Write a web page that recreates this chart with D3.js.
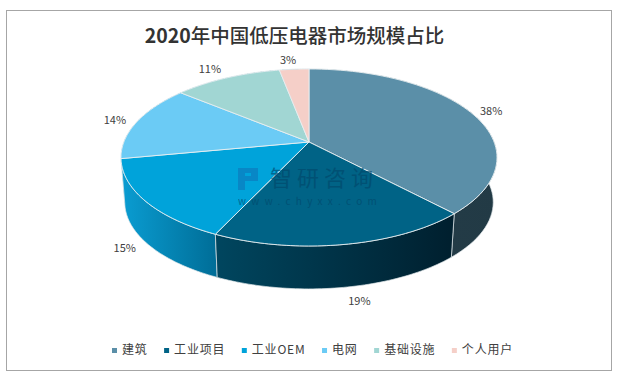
<!DOCTYPE html>
<meta charset="utf-8">
<title>2020年中国低压电器市场规模占比</title>
<script src="https://d3js.org/d3.v7.min.js"></script>
<style>
  body { margin: 0; background: #fff; }
  text { font-family: "Noto Sans CJK SC", "Noto Sans", sans-serif; }
</style>
<svg width="617" height="373"></svg>
<script>
var categories = ["建筑", "工业项目", "工业OEM", "电网", "基础设施", "个人用户"];
var shares = [38, 19, 15, 14, 11, 3];
var colors = ["#5b8fa8", "#006386", "#00a3da", "#6bcbf5", "#a1d6d3", "#f5cfc8"];
var wallLeft = ["#263e4b", "#00465f", "#0a9dd2", "#0a9dd2", "#0a9dd2", "#0a9dd2"];
var wallRight = ["#223a45", "#001f2e", "#006e98", "#006e98", "#006e98", "#006e98"];

var svg = d3.select("svg");

svg.append("rect")
    .attr("x", 6.5).attr("y", 10.5)
    .attr("width", 605).attr("height", 360)
    .attr("fill", "#fff")
    .attr("stroke", "#a6a6a6");

var title = svg.append("text")
    .attr("x", 294.5).attr("y", 43)
    .attr("text-anchor", "middle")
    .attr("font-size", 19.5)
    .attr("fill", "#333");
title.append("tspan").attr("font-weight", 700).text("2020");
title.append("tspan").attr("font-weight", 500).text("年中国低压电器市场规模占比");

// the pie is tilted with a bit of perspective, so the apex sits above the ellipse centre
var cx = 309, cy = 142, rx = 185.1, ry = 85.8, persp = 0.175, depth = 45, bottomScale = 0.98;

function project(angle, bottom) {
    var u = Math.sin(angle), v = -Math.cos(angle);
    var w = 1 - persp * v;
    var s = bottom ? bottomScale : 1;
    return [cx + s * rx * u / w, cy + (bottom ? depth : 0) + s * ry * v / w];
}

var color = d3.scaleOrdinal().domain(categories).range(colors);
var pie = d3.pie().sort(null).value(function(d, i) { return shares[i]; });
var arcs = pie(categories);
var line = d3.line();

function arcPoints(d, bottom) {
    return d3.range(0, 61).map(function(k) {
        return project(d.startAngle + (d.endAngle - d.startAngle) * k / 60, bottom);
    });
}

var defs = svg.append("defs");
arcs.forEach(function(d, i) {
    var xs = arcPoints(d, false).map(function(p) { return p[0]; });
    var g = defs.append("linearGradient")
        .attr("id", "wall" + i)
        .attr("gradientUnits", "userSpaceOnUse")
        .attr("x1", d3.min(xs)).attr("x2", d3.max(xs))
        .attr("y1", 0).attr("y2", 0);
    g.append("stop").attr("offset", 0).attr("stop-color", wallLeft[i]);
    g.append("stop").attr("offset", 1).attr("stop-color", wallRight[i]);
});

// side walls, back ones first so the front ones stay on top
[3, 4, 5, 0, 2, 1].forEach(function(i) {
    var d = arcs[i];
    svg.append("path")
        .attr("d", line(arcPoints(d, false).concat(arcPoints(d, true).reverse())) + "Z")
        .attr("fill", "url(#wall" + i + ")")
        .attr("stroke", "#dfe6ea")
        .attr("stroke-width", 0.7);
});

// top face
svg.append("g").selectAll("path")
    .data(arcs)
    .enter()
    .append("path")
    .attr("d", function(d) { return line([[cx, cy]].concat(arcPoints(d, false))) + "Z"; })
    .attr("fill", function(d) { return color(d.data); })
    .attr("stroke", "#e8eef0")
    .attr("stroke-width", 0.9);

// watermark
var mark = svg.append("g").attr("fill", "#00486b").attr("opacity", 0.65);
mark.append("text")
    .attr("x", 270).attr("y", 186)
    .attr("font-size", 22)
    .attr("letter-spacing", 5)
    .text("智研咨询");
mark.append("text")
    .attr("x", 238).attr("y", 205)
    .attr("font-size", 10)
    .attr("letter-spacing", 5.3)
    .text("www.chyxx.com");
svg.append("path")
    .attr("d", "M238 168H258V181H245V190H238ZM245 173V176H251V173Z")
    .attr("fill", "#0a7fc0")
    .attr("fill-rule", "evenodd")
    .attr("opacity", 0.8);

// value labels just outside the rim, below the wall on the front half
var labelNudge = [[0, 3], [12, 2], [-3, -3], [-1, 1], [-6, 2], [-4, 3]];
svg.append("g").selectAll("text")
    .data(arcs)
    .enter()
    .append("text")
    .attr("font-size", 11)
    .attr("fill", "#404040")
    .attr("text-anchor", "middle")
    .attr("x", function(d) {
        var a = (d.startAngle + d.endAngle) / 2;
        return project(a, false)[0] + 22 * Math.sin(a) + labelNudge[d.index][0];
    })
    .attr("y", function(d) {
        var a = (d.startAngle + d.endAngle) / 2;
        var v = -Math.cos(a);
        return project(a, false)[1] + (v > 0 ? 43 : 0) + 12 * v + 4 + labelNudge[d.index][1];
    })
    .text(function(d) { return shares[d.index] + "%"; });

// legend flows left to right from the measured text widths
var legendX = 112;
categories.forEach(function(c) {
    svg.append("rect")
        .attr("x", legendX).attr("y", 348)
        .attr("width", 5).attr("height", 5)
        .attr("fill", color(c));
    var t = svg.append("text")
        .attr("x", legendX + 10).attr("y", 354)
        .attr("font-size", 12)
        .attr("letter-spacing", 0.8)
        .attr("fill", "#404040")
        .text(c);
    legendX += 10 + t.node().getComputedTextLength() + 16.5;
});
</script>
